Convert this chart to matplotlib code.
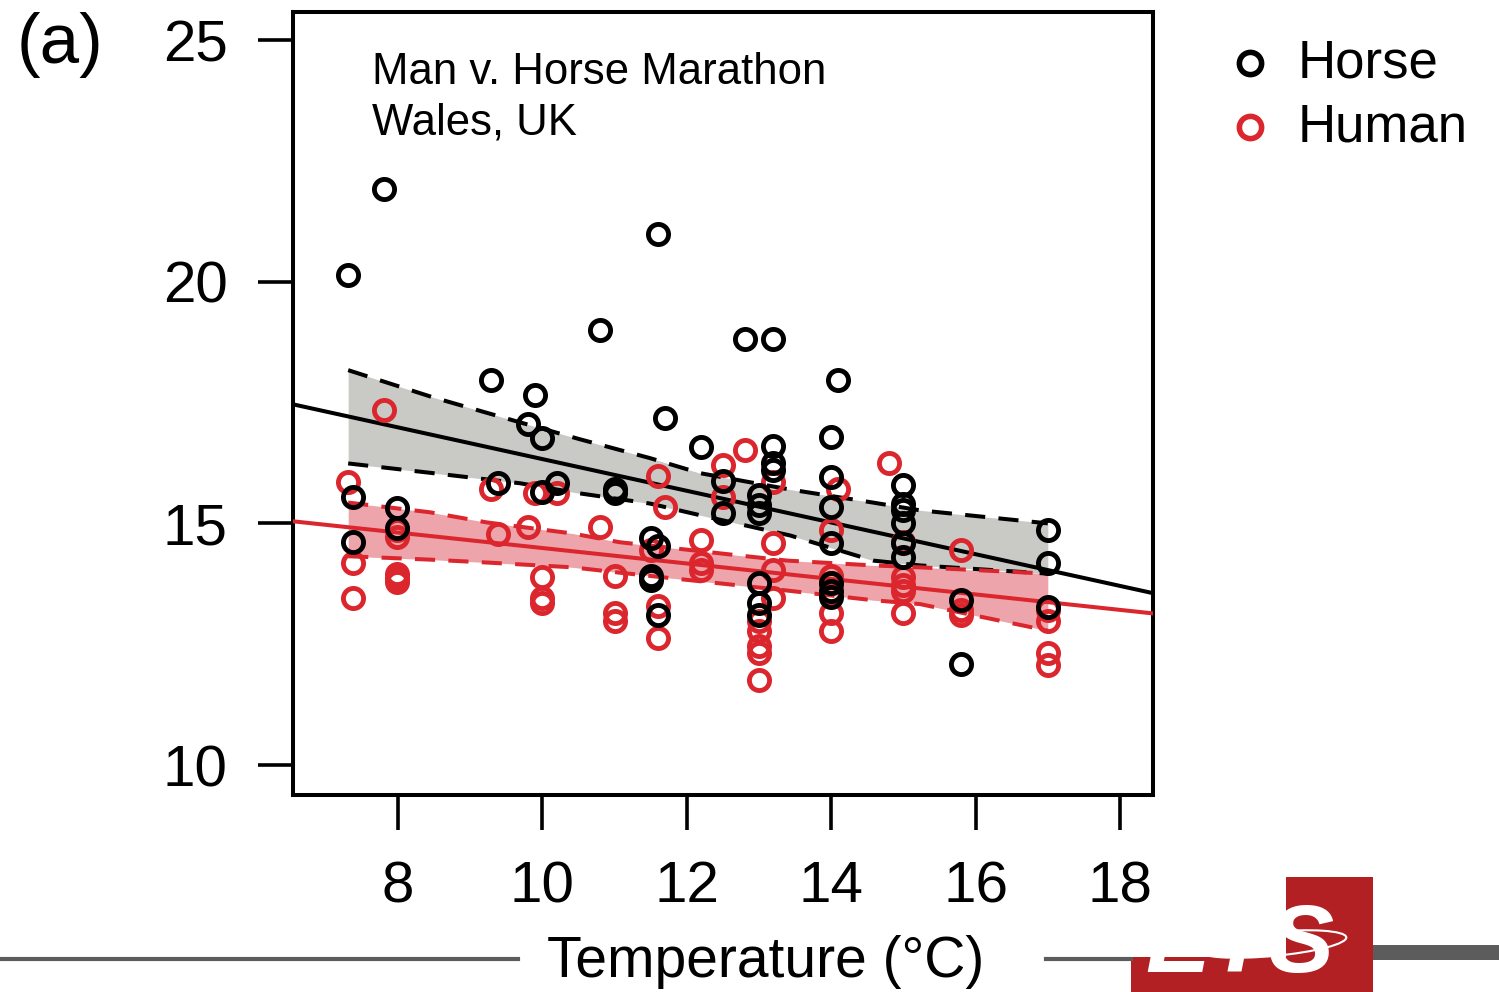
import numpy as np
import matplotlib.pyplot as plt
from matplotlib.lines import Line2D
from matplotlib.patches import Polygon, Rectangle, Ellipse

plt.rcParams['font.family'] = ['Liberation Sans', 'DejaVu Sans']

# race results: temperature (deg C) vs winning speed
horse_temp = [7.31, 7.81, 7.38, 7.38, 7.99, 7.99, 9.29, 9.39, 9.80, 9.90,
              10.0, 10.0, 10.2, 10.8, 11.0, 11.0, 11.5, 11.5, 11.5, 11.6,
              11.6, 11.6, 11.7, 12.2, 12.5, 12.5, 12.8, 13.0, 13.0, 13.0,
              13.0, 13.0, 13.0, 13.2, 13.2, 13.2, 13.2, 14.0, 14.0, 14.0,
              14.0, 14.0, 14.0, 14.0, 14.1, 15.0, 15.0, 15.0, 15.0, 15.0,
              15.0, 15.8, 15.8, 17.0, 17.0, 17.0]
horse_speed = [20.13, 21.92, 15.54, 14.61, 15.31, 14.90, 17.96, 15.83, 17.05, 17.65,
               16.76, 15.64, 15.83, 19.00, 15.72, 15.62, 14.69, 13.92, 13.82, 20.98,
               14.54, 13.10, 17.19, 16.57, 15.87, 15.21, 18.81, 15.58, 15.37, 15.21,
               13.76, 13.36, 13.10, 18.81, 16.61, 16.24, 16.10, 16.78, 15.95, 15.33,
               14.59, 13.76, 13.61, 13.47, 17.96, 15.79, 15.41, 15.27, 15.00, 14.59,
               14.30, 13.41, 12.08, 14.86, 14.17, 13.26]

human_temp = [7.31, 7.38, 7.38, 7.81, 7.99, 7.99, 7.99, 7.99, 7.99, 9.29,
              9.39, 9.80, 9.90, 10.0, 10.0, 10.0, 10.2, 10.8, 11.0, 11.0,
              11.0, 11.5, 11.6, 11.6, 11.6, 11.7, 12.2, 12.2, 12.2, 12.5,
              12.5, 12.8, 13.0, 13.0, 13.0, 13.0, 13.0, 13.2, 13.2, 13.2,
              13.2, 14.0, 14.0, 14.0, 14.0, 14.0, 14.1, 14.8, 15.0, 15.0,
              15.0, 15.0, 15.0, 15.8, 15.8, 15.8, 17.0, 17.0, 17.0, 17.0]
human_speed = [15.85, 14.17, 13.45, 17.34, 14.86, 14.71, 13.96, 13.86, 13.78, 15.72,
               14.79, 14.92, 15.62, 13.88, 13.45, 13.36, 15.62, 14.92, 13.92, 13.14,
               12.99, 14.44, 15.99, 13.30, 12.62, 15.33, 14.65, 14.17, 14.03, 16.20,
               15.54, 16.51, 12.99, 12.78, 12.47, 12.31, 11.75, 15.85, 14.59, 14.03,
               13.45, 14.86, 13.92, 13.76, 13.14, 12.78, 15.72, 16.24, 14.61, 13.88,
               13.72, 13.61, 13.14, 14.44, 13.20, 13.10, 13.20, 12.99, 12.31, 12.06]

# fitted lines (intercept, slope)
horse_fit = (19.61, -0.328)
human_fit = (16.09, -0.160)

# confidence bands
horse_band_t = [7.31, 8.48, 9.69, 10.52, 11.49, 12.18, 13.43, 14.58, 15.23, 17.0]
horse_band_hi = [18.17, 17.61, 17.09, 16.74, 16.35, 16.04, 15.70, 15.43, 15.27, 15.00]
horse_band_lo = [16.24, 16.04, 15.83, 15.62, 15.41, 15.17, 14.75, 14.23, 14.13, 13.96]

human_band_t = [7.31, 8.44, 9.23, 10.42, 11.07, 12.70, 13.39, 14.58, 15.23, 17.0]
human_band_hi = [15.43, 15.23, 15.02, 14.79, 14.61, 14.34, 14.23, 14.13, 14.09, 13.96]
human_band_lo = [14.32, 14.25, 14.19, 14.09, 13.98, 13.72, 13.61, 13.41, 13.33, 12.78]

RED = '#db262d'
W, H = 1499, 992

fig = plt.figure(figsize=(W / 100, H / 100), dpi=100)
ax = fig.add_axes([293 / W, 1 - 795 / H, 860 / W, 783 / H])

dash = (0, (5, 3.3))
ax.fill_between(horse_band_t, horse_band_lo, horse_band_hi, color='#c9c9c5', lw=0, zorder=1)
ax.fill_between(human_band_t, human_band_lo, human_band_hi, color='#eea4ab', lw=0, zorder=1)
for t, lo, hi, c in [(horse_band_t, horse_band_lo, horse_band_hi, 'black'),
                     (human_band_t, human_band_lo, human_band_hi, RED)]:
    ax.plot(t, hi, ls=dash, color=c, lw=2.9, zorder=2)
    ax.plot(t, lo, ls=dash, color=c, lw=2.9, zorder=2)

xx = np.array([6.0, 19.0])
ax.plot(xx, horse_fit[0] + horse_fit[1] * xx, color='black', lw=2.9, zorder=3)
ax.plot(xx, human_fit[0] + human_fit[1] * xx, color=RED, lw=2.9, zorder=3)

ax.plot(human_temp, human_speed, 'o', ms=14.5, mfc='none', mec=RED, mew=3.5, zorder=4)
ax.plot(horse_temp, horse_speed, 'o', ms=14.5, mfc='none', mec='black', mew=3.5, zorder=5)

ax.set_xlim(6.546, 18.457)
ax.set_ylim(9.38, 25.58)
ax.set_xticks([8, 10, 12, 14, 16, 18])
ax.set_yticks([10, 15, 20, 25])
ax.tick_params(length=25, width=2.6, labelsize=42, pad=22, color='black')
for s in ax.spines.values():
    s.set_linewidth(2.9)

ax.text(0.092, 0.949, 'Man v. Horse Marathon\nWales, UK', transform=ax.transAxes,
        fontsize=31.5, va='top', ha='left', linespacing=1.3)

fig.text(17 / W, 1 - 45 / H, '(a)', fontsize=51, va='center', ha='left')

# legend, outside the box on the right
for yy, c, lab in [(63, 'black', 'Horse'), (127, RED, 'Human')]:
    fig.add_artist(Line2D([1250 / W], [1 - yy / H], marker='o', ms=16, mfc='none',
                          mec=c, mew=4, transform=fig.transFigure))
    fig.text(1298 / W, 1 - yy / H, lab, fontsize=38, va='center', ha='left')

fig.text(766 / W, 1 - 962 / H, 'Temperature (°C)', fontsize=41, va='center', ha='center')

# page decorations along the bottom
gray = '#5c5c5c'
fig.add_artist(Line2D([0, 518 / W], [1 - 959 / H] * 2, color=gray, lw=3, transform=fig.transFigure))
fig.add_artist(Line2D([1046 / W, 1131 / W], [1 - 959 / H] * 2, color=gray, lw=3, transform=fig.transFigure))
fig.add_artist(Rectangle((1373 / W, 1 - 960 / H), 126 / W, 15 / H, color=gray, lw=0,
                         transform=fig.transFigure))

logo_px = [(1131, 992), (1373, 992), (1373, 877), (1286, 877), (1286, 957), (1131, 957)]
logo = Polygon([(x / W, 1 - y / H) for x, y in logo_px], closed=True, color='#b22024', lw=0,
               transform=fig.transFigure)
fig.add_artist(logo)
ets = fig.text(1240 / W, 0.0, 'ETS', fontsize=70, color='white', fontweight='bold',
               fontstyle='italic', ha='center', va='bottom')
ets.set_clip_path(logo)
swoosh = Ellipse((1272 / W, 1 - 944 / H), 150 / W, 24 / H, angle=8, fill=False, ec='white',
                 lw=1.5, transform=fig.transFigure)
fig.add_artist(swoosh)
swoosh.set_clip_path(logo)

fig.savefig('out.png', dpi=100)
